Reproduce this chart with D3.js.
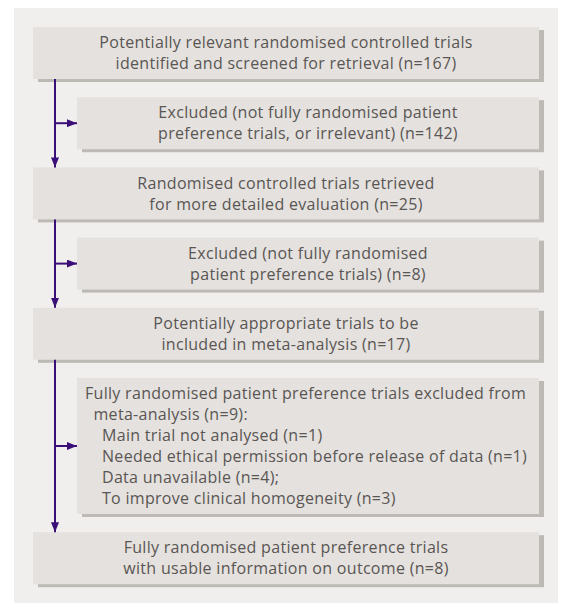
<!DOCTYPE html>
<html>
<head>
<meta charset="utf-8">
<title>Flow of trials</title>
<script src="https://cdnjs.cloudflare.com/ajax/libs/d3/7.8.5/d3.min.js"></script>
<style>
    body { margin: 0; background: #fff; overflow: hidden; }
    svg { display: block; }
    text { font-family: "Open Sans", sans-serif; fill: #595654; letter-spacing: 0.3px; }
</style>
</head>
<body>
<div id="chart"></div>
<script>
    // main stages (left column) and exclusions (indented boxes)
    var stageLabels = [
        ["Potentially relevant randomised controlled trials", "identified and screened for retrieval"],
        ["Randomised controlled trials retrieved", "for more detailed evaluation"],
        ["Potentially appropriate trials to be", "included in meta-analysis"],
        ["Fully randomised patient preference trials", "with usable information on outcome"]
    ];
    var stageCounts = [167, 25, 17, 8];

    var excludedLabels = [
        ["Excluded (not fully randomised patient", "preference trials, or irrelevant)"],
        ["Excluded (not fully randomised", "patient preference trials)"],
        ["Fully randomised patient preference trials excluded from", "meta-analysis"]
    ];
    var excludedCounts = [142, 8, 9];

    // reasons for the last exclusion
    var reasonLabels = ["Main trial not analysed", "Needed ethical permission before release of data",
        "Data unavailable", "To improve clinical homogeneity"];
    var reasonCounts = [1, 1, 4, 3];
    var reasonSuffix = ["", "", ";", ""];

    var width = 561, height = 611;
    var lineH = 21, pad = 10, gap = 18.2;
    var mainX = 33, subX = 77, rightX = 539, arrowX = 55;
    var purple = "#3b0f78";

    // build list of boxes in order
    var boxes = [];
    stageLabels.forEach(function(lab, i) {
        var lines = lab.slice();
        lines[lines.length - 1] += " (n=" + stageCounts[i] + ")";
        boxes.push({ type: "main", lines: lines.map(function(t) { return { t: t, indent: 0 }; }) });
        if (i < excludedLabels.length) {
            var ex = excludedLabels[i].slice();
            var l;
            if (i === excludedLabels.length - 1) {
                l = [{ t: ex[0], indent: 0 }, { t: ex[1] + " (n=" + excludedCounts[i] + "):", indent: 1 }];
                reasonLabels.forEach(function(r, j) {
                    l.push({ t: r + " (n=" + reasonCounts[j] + ")" + reasonSuffix[j], indent: 2 });
                });
                boxes.push({ type: "sub", align: "left", lines: l });
            } else {
                ex[ex.length - 1] += " (n=" + excludedCounts[i] + ")";
                boxes.push({ type: "sub", lines: ex.map(function(t) { return { t: t, indent: 0 }; }) });
            }
        }
    });

    // vertical layout in "line units" through a linear scale
    var units = 0;
    boxes.forEach(function(b, i) {
        b.u0 = units;
        b.h = b.lines.length * lineH + pad;
        units += b.h + (i < boxes.length - 1 ? gap : 0);
        b.u1 = b.u0 + b.h;
    });
    var y = d3.scaleLinear().domain([0, units]).range([27, 27 + units]);

    var svg = d3.select("#chart").append("svg")
        .attr("width", width)
        .attr("height", height);

    svg.append("rect")
        .attr("x", 14).attr("y", 8)
        .attr("width", 544).attr("height", 595)
        .attr("fill", "#f0efee");

    var defs = svg.append("defs");
    defs.append("marker")
        .attr("id", "head")
        .attr("viewBox", "0 0 10 8")
        .attr("refX", 10).attr("refY", 4)
        .attr("markerWidth", 10).attr("markerHeight", 8)
        .attr("markerUnits", "userSpaceOnUse")
        .attr("orient", "auto")
        .append("path")
        .attr("d", "M0,0L10,4L0,8Z")
        .attr("fill", purple);

    var g = svg.selectAll("g.box")
        .data(boxes)
        .enter().append("g")
        .attr("class", "box");

    g.append("rect")
        .attr("x", function(d) { return (d.type === "main" ? mainX : subX) + 5; })
        .attr("y", function(d) { return y(d.u0) + 3; })
        .attr("width", function(d) { return rightX - (d.type === "main" ? mainX : subX); })
        .attr("height", function(d) { return d.h; })
        .attr("fill", "#bdb9b5");

    g.append("rect")
        .attr("x", function(d) { return d.type === "main" ? mainX : subX; })
        .attr("y", function(d) { return y(d.u0); })
        .attr("width", function(d) { return rightX - (d.type === "main" ? mainX : subX); })
        .attr("height", function(d) { return d.h; })
        .attr("fill", "#e5e1de");

    g.each(function(d) {
        var x0 = d.type === "main" ? mainX : subX;
        var cx = (x0 + rightX) / 2;
        var top = y(d.u0) + pad / 2;
        d3.select(this).selectAll("text")
            .data(d.lines)
            .enter().append("text")
            .attr("x", function(l) { return d.align === "left" ? x0 + 8 + l.indent * 8.5 : cx; })
            .attr("y", function(l, i) { return top + i * lineH + lineH / 2; })
            .attr("dy", "0.35em")
            .attr("text-anchor", d.align === "left" ? "start" : "middle")
            .style("font-size", "16px")
            .text(function(l) { return l.t; });
    });

    // arrows
    var mains = boxes.filter(function(b) { return b.type === "main"; });
    var subs = boxes.filter(function(b) { return b.type === "sub"; });

    mains.slice(0, -1).forEach(function(b, i) {
        svg.append("line")
            .attr("x1", arrowX).attr("x2", arrowX)
            .attr("y1", y(b.u1)).attr("y2", y(mains[i + 1].u0))
            .attr("stroke", purple).attr("stroke-width", 2)
            .attr("marker-end", "url(#head)");
    });
    subs.forEach(function(b) {
        var my = y((b.u0 + b.u1) / 2);
        svg.append("line")
            .attr("x1", arrowX).attr("x2", subX)
            .attr("y1", my).attr("y2", my)
            .attr("stroke", purple).attr("stroke-width", 2)
            .attr("marker-end", "url(#head)");
    });
</script>
</body>
</html>
